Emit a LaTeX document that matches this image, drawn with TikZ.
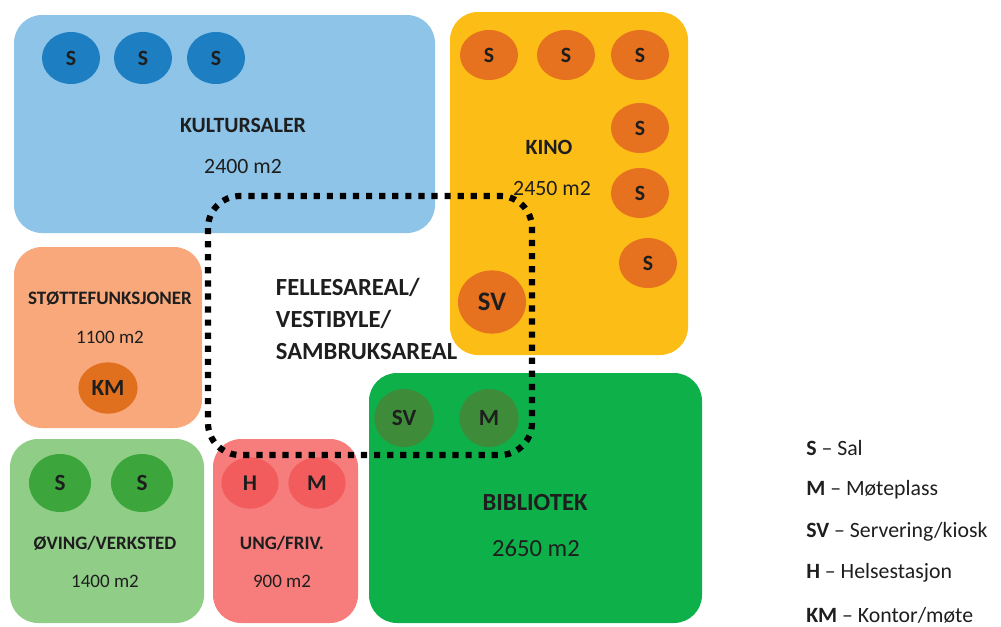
\documentclass[tikz,border=0pt]{standalone}
\usepackage{fontspec}
\setmainfont{Carlito}
\usepackage{tikz}
\usetikzlibrary{shapes.geometric,positioning}

\definecolor{kulturblaa}{RGB}{142,196,232}
\definecolor{kulturmork}{RGB}{29,126,194}
\definecolor{kinogul}{RGB}{252,189,22}
\definecolor{kinooransje}{RGB}{230,113,30}
\definecolor{stottefersken}{RGB}{248,168,122}
\definecolor{stottemork}{RGB}{224,112,30}
\definecolor{ovinglys}{RGB}{144,206,136}
\definecolor{ovingmork}{RGB}{60,166,60}
\definecolor{ungrosa}{RGB}{247,124,124}
\definecolor{ungmork}{RGB}{242,92,92}
\definecolor{bibgronn}{RGB}{14,176,74}
\definecolor{bibmork}{RGB}{62,140,58}
\definecolor{tekst}{RGB}{30,30,30}

\begin{document}
\begin{tikzpicture}[
			x = 0.025cm, y = -0.025cm,
			zone/.style = {rounded corners = 0.7cm},
			sal/.style = {ellipse, inner sep = 0pt, minimum width = 1.45cm, minimum height = 1.3cm, text = tekst, font = \bfseries\fontsize{15.5}{17}\selectfont},
			tittel/.style = {text = tekst, font = \bfseries\fontsize{15.5}{18}\selectfont},
			areal/.style = {text = tekst, font = \fontsize{15.5}{18}\selectfont},
			smatittel/.style = {text = tekst, font = \bfseries\fontsize{13.5}{16}\selectfont},
			smaareal/.style = {text = tekst, font = \fontsize{13.5}{16}\selectfont},
			forklaring/.style = {anchor = west, inner sep = 0pt, text = tekst, font = \fontsize{15.5}{18}\selectfont},
			fellesgrense/.style = {line width = 4.4pt, dash pattern = on 4.4pt off 4.9pt, rounded corners = 0.8cm}
			]

			\useasboundingbox (0,0) rectangle (1001,626);

			% soner
			\fill[zone, kulturblaa] (14,15) rectangle (435,233);
			\fill[zone, kinogul] (450,12) rectangle (688,355);
			\fill[zone, stottefersken] (14,247) rectangle (202,428);
			\fill[zone, ovinglys] (10,439) rectangle (204,623);
			\fill[zone, ungrosa] (213,439) rectangle (358,623);
			\fill[zone, bibgronn] (369,373) rectangle (702,623);

			% kultursaler
			\node[sal, fill = kulturmork] (ks1) at (71,58) {S};
			\node[sal, fill = kulturmork] (ks2) at (143,58) {S};
			\node[sal, fill = kulturmork] (ks3) at (216,58) {S};
			\node[tittel] (kultur) at (243,125) {KULTURSALER};
			\node[areal] (kulturm2) at (243,166) {2400 m2};

			% kino
			\node[sal, fill = kinooransje, minimum height = 1.25cm] (ki1) at (489,55) {S};
			\node[sal, fill = kinooransje, minimum height = 1.25cm] (ki2) at (566,55) {S};
			\node[sal, fill = kinooransje, minimum height = 1.25cm] (ki3) at (640,55) {S};
			\node[sal, fill = kinooransje, minimum height = 1.25cm] (ki4) at (640,128) {S};
			\node[sal, fill = kinooransje, minimum height = 1.25cm] (ki5) at (640,193) {S};
			\node[sal, fill = kinooransje, minimum height = 1.25cm] (ki6) at (648,263) {S};
			\node[sal, fill = kinooransje, minimum width = 1.7cm, minimum height = 1.58cm, font = \bfseries\fontsize{19}{21}\selectfont] (kisv) at (492,302) {SV};
			\node[tittel] (kino) at (549,147) {KINO};
			\node[areal] (kinom2) at (552,188) {2450 m2};

			% stottefunksjoner
			\node[smatittel] (stotte) at (110,299) {STØTTEFUNKSJONER};
			\node[smaareal] (stottem2) at (110,337) {1100 m2};
			\node[sal, fill = stottemork, minimum width = 1.48cm, minimum height = 1.28cm, font = \bfseries\fontsize{16.5}{18}\selectfont] (km) at (108,388) {KM};

			% oving/verksted
			\node[sal, fill = ovingmork, minimum width = 1.55cm, minimum height = 1.45cm, font = \bfseries\fontsize{16.5}{18}\selectfont] (os1) at (60,483) {S};
			\node[sal, fill = ovingmork, minimum width = 1.55cm, minimum height = 1.45cm, font = \bfseries\fontsize{16.5}{18}\selectfont] (os2) at (142,483) {S};
			\node[smatittel] (oving) at (105,543) {ØVING/VERKSTED};
			\node[smaareal] (ovingm2) at (105,581) {1400 m2};

			% ung/friv.
			\node[sal, fill = ungmork, minimum width = 1.43cm, minimum height = 1.28cm, font = \bfseries\fontsize{16}{18}\selectfont] (uh) at (250,483) {H};
			\node[sal, fill = ungmork, minimum width = 1.43cm, minimum height = 1.28cm, font = \bfseries\fontsize{16}{18}\selectfont] (um) at (317,483) {M};
			\node[smatittel] (ung) at (282,543) {UNG/FRIV.};
			\node[smaareal] (ungm2) at (282,581) {900 m2};

			% bibliotek
			\node[sal, fill = bibmork, minimum width = 1.48cm, minimum height = 1.45cm, font = \bfseries\fontsize{16.5}{18}\selectfont] (bsv) at (404,418) {SV};
			\node[sal, fill = bibmork, minimum width = 1.48cm, minimum height = 1.45cm, font = \bfseries\fontsize{16.5}{18}\selectfont] (bm) at (489,418) {M};
			\node[tittel, font = \bfseries\fontsize{17.5}{20}\selectfont] (bib) at (535,503) {BIBLIOTEK};
			\node[areal, font = \fontsize{17.5}{20}\selectfont] (bibm2) at (536,548) {2650 m2};

			% fellesareal
			\draw[fellesgrense] (208,196) rectangle (532,455);
			\node[anchor = west, align = left, text = tekst, font = \bfseries\fontsize{17.5}{23}\selectfont] (felles) at (271,319) {FELLESAREAL/\\VESTIBYLE/\\SAMBRUKSAREAL};

			% forklaring
			\node[forklaring] (fS) at (806,448) {\textbf{S} – Sal};
			\node[forklaring] (fM) at (806,490) {\textbf{M} – Møteplass};
			\node[forklaring] (fSV) at (806,532) {\textbf{SV} – Servering/kiosk};
			\node[forklaring] (fH) at (806,573) {\textbf{H} – Helsestasjon};
			\node[forklaring] (fKM) at (806,615) {\textbf{KM} – Kontor/møte};

		\end{tikzpicture}
\end{document}
